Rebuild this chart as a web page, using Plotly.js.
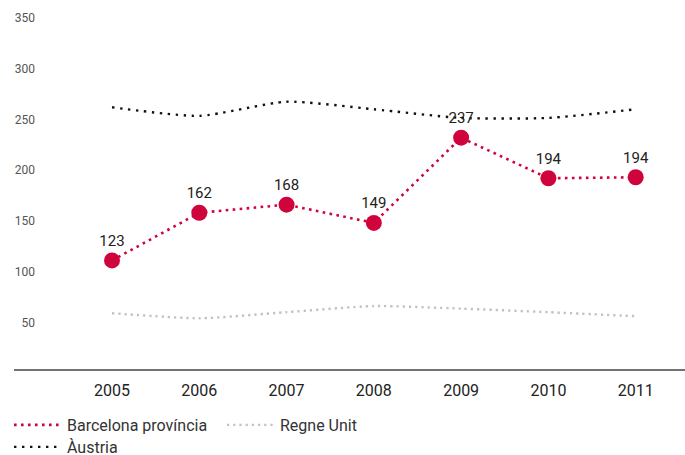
<!DOCTYPE html>
<html>
<head>
<meta charset="utf-8">
<script src="https://cdn.plot.ly/plotly-3.0.1.min.js"></script>
<style>html,body{margin:0;padding:0;background:#fff;}#chart{width:685px;height:455px;}</style>
</head>
<body>
<div id="chart"></div>
<script>
var years = [2005, 2006, 2007, 2008, 2009, 2010, 2011];
var barcelona = [111, 158, 166, 148, 232, 192, 193];
var barcelonaLabels = ['123', '162', '168', '149', '237', '194', '194'];
var regneUnit = [59, 54, 60, 66, 63.5, 60, 56];
var austria = [262, 253.5, 267.5, 260, 251.5, 251.5, 260];
var yTicks = [50, 100, 150, 200, 250, 300, 350];
var seriesNames = ['Barcelona província', 'Regne Unit', 'Àustria'];

var RED = '#d0043c';
var GREY = '#c9bfba';
var BLACK = '#111111';

var redLine = {color: RED, width: 2.6, dash: '2.6px,4.4px'};

var traces = [
  {
    x: years, y: regneUnit, name: seriesNames[1], type: 'scatter', mode: 'lines',
    line: {color: GREY, width: 2.4, dash: '2.2px,4px', shape: 'spline', smoothing: 0.6},
    legend: 'legend', legendrank: 2, hoverinfo: 'skip'
  },
  {
    x: years, y: austria, name: seriesNames[2], type: 'scatter', mode: 'lines',
    line: {color: BLACK, width: 2.4, dash: '2.4px,5.6px', shape: 'spline', smoothing: 0.6},
    legend: 'legend2', legendrank: 3, hoverinfo: 'skip'
  },
  {
    x: years, y: barcelona, name: seriesNames[0], type: 'scatter', mode: 'lines+markers+text',
    text: barcelonaLabels, textposition: 'top center',
    textfont: {family: 'Roboto, sans-serif', size: 15, color: '#222'},
    line: redLine,
    marker: {color: RED, size: 16},
    showlegend: false, hoverinfo: 'skip'
  },
  {
    x: [null], y: [null], name: seriesNames[0], type: 'scatter', mode: 'lines',
    line: redLine, legend: 'legend', legendrank: 1, hoverinfo: 'skip'
  }
];

var layout = {
  width: 685, height: 455,
  margin: {l: 40, r: 0, t: 18, b: 85},
  paper_bgcolor: '#fff', plot_bgcolor: '#fff',
  font: {family: 'Roboto, sans-serif', color: '#333'},
  showlegend: true,
  xaxis: {
    range: [2004.175, 2011.565], tickvals: years, ticktext: years.map(String),
    showgrid: false, zeroline: false, showline: false, ticks: '',
    ticklabelstandoff: 9,
    tickfont: {family: 'Roboto, sans-serif', size: 16, color: '#222'}
  },
  yaxis: {
    range: [3, 350], tickvals: yTicks, ticktext: yTicks.map(String),
    showgrid: false, zeroline: false, showline: false, ticks: '',
    ticklabelstandoff: 4,
    tickfont: {family: 'Roboto, sans-serif', size: 12, color: '#555'}
  },
  shapes: [
    {type: 'line', xref: 'paper', yref: 'paper', x0: -26/645, x1: 1, y0: 0, y1: 0,
     line: {color: '#444', width: 1.5}}
  ],
  legend: {
    orientation: 'h', xref: 'container', yref: 'container',
    x: 9/685, y: 1 - 408/455, xanchor: 'left', yanchor: 'top',
    font: {family: 'Roboto, sans-serif', size: 16, color: '#333'},
    entrywidth: 150, entrywidthmode: 'pixels', itemwidth: 48,
    bgcolor: 'rgba(0,0,0,0)', borderwidth: 0
  },
  legend2: {
    orientation: 'h', xref: 'container', yref: 'container',
    x: 9/685, y: 1 - 430/455, xanchor: 'left', yanchor: 'top',
    font: {family: 'Roboto, sans-serif', size: 16, color: '#333'},
    itemwidth: 48,
    bgcolor: 'rgba(0,0,0,0)', borderwidth: 0
  }
};

Plotly.newPlot('chart', traces, layout, {displayModeBar: false, staticPlot: true});
</script>
</body>
</html>
